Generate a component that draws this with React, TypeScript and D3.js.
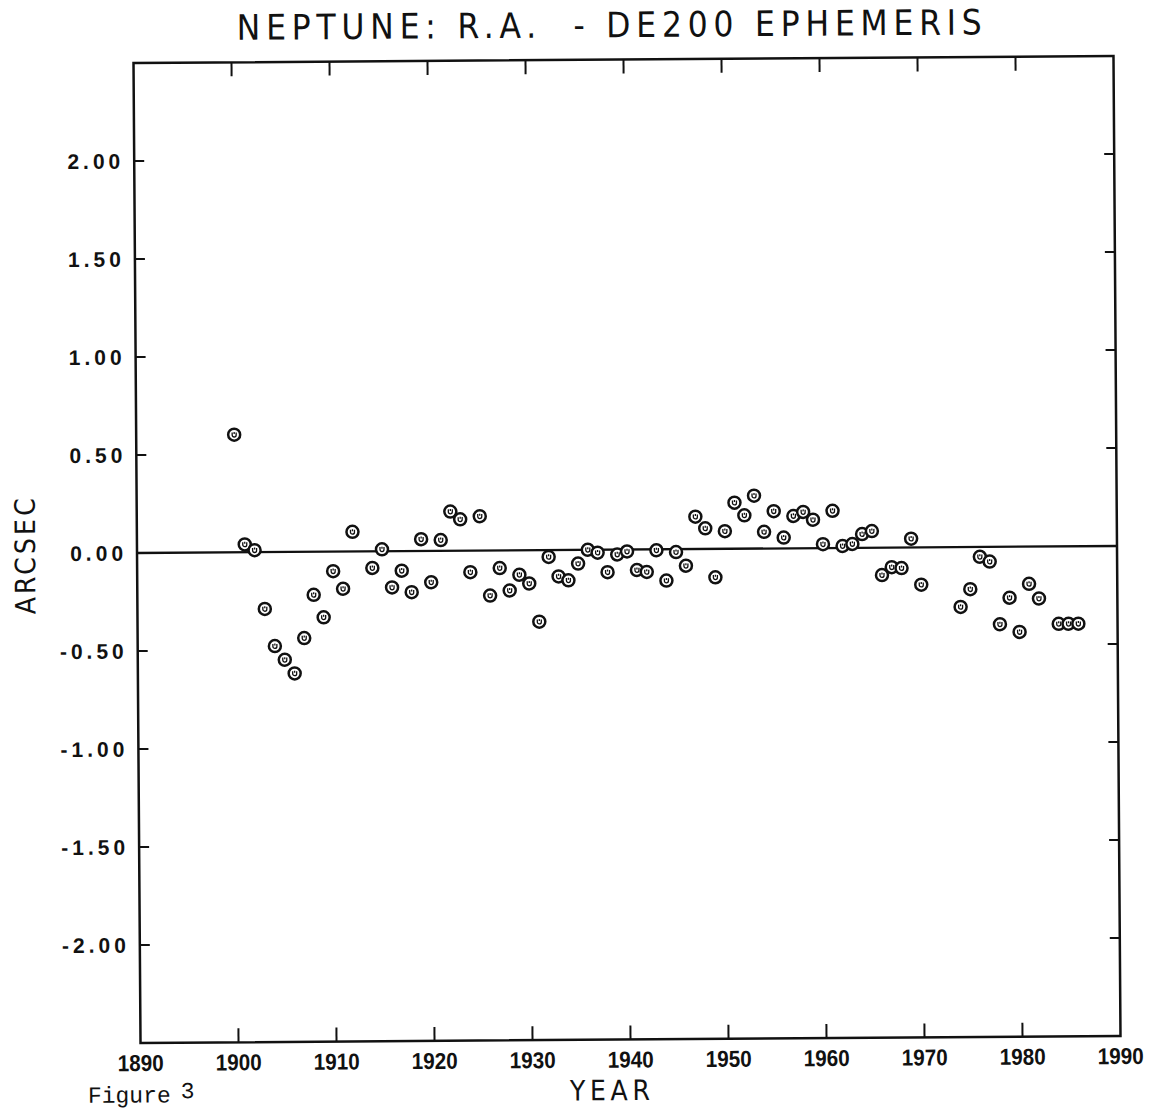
import React from "react";
import * as d3 from "d3";

const years = [
  1900, 1901, 1902, 1903, 1904, 1905, 1906, 1907, 1908, 1909, 1910, 1911, 1912,
  1914, 1915, 1916, 1917, 1918, 1919, 1920, 1921, 1922, 1923, 1924, 1925, 1926,
  1927, 1928, 1929, 1930, 1931, 1932, 1933, 1934, 1935, 1936, 1937, 1938, 1939,
  1940, 1941, 1942, 1943, 1944, 1945, 1946, 1947, 1948, 1949, 1950, 1951, 1952,
  1953, 1954, 1955, 1956, 1957, 1958, 1959, 1960, 1961, 1962, 1963, 1964, 1965,
  1966, 1967, 1968, 1969, 1970, 1974, 1975, 1976, 1977, 1978, 1979, 1980, 1981,
  1982, 1984, 1985, 1986,
];
const arcsec = [
  0.6, 0.04, 0.01, -0.29, -0.48, -0.55, -0.62, -0.44, -0.22, -0.335, -0.1, -0.19, 0.1,
  -0.085, 0.01, -0.185, -0.1, -0.21, 0.06, -0.16, 0.055, 0.2, 0.16, -0.11, 0.175, -0.23,
  -0.09, -0.205, -0.125, -0.17, -0.365, -0.035, -0.135, -0.155, -0.07, 0.0, -0.015, -0.115, -0.025,
  -0.01, -0.105, -0.115, -0.005, -0.16, -0.015, -0.085, 0.165, 0.105, -0.145, 0.09, 0.235, 0.17,
  0.27, 0.085, 0.19, 0.055, 0.165, 0.185, 0.145, 0.02, 0.19, 0.01, 0.02, 0.07, 0.085,
  -0.14, -0.1, -0.105, 0.045, -0.19, -0.305, -0.215, -0.05, -0.075, -0.395, -0.26, -0.435, -0.19,
  -0.265, -0.395, -0.395, -0.395,
];
const xTicks = [1890, 1900, 1910, 1920, 1930, 1940, 1950, 1960, 1970, 1980, 1990];
const yTicks = [2, 1.5, 1, 0.5, 0, -0.5, -1, -1.5, -2];
const yTickLabels = ["2.00", "1.50", "1.00", "0.50", "0.00", "-0.50", "-1.00", "-1.50", "-2.00"];
const titleText = "NEPTUNE: R.A.  - DE200 EPHEMERIS";
const xTitle = "YEAR";
const yTitle = "ARCSEC";
const figureWord = "Figure";
const figureNum = "3";

const W = 1158;
const H = 1111;
const left = 137;
const right = 1117;
const top = 59.5;
const bottom = 1039.5;

export default function App() {
  const x = d3.scaleLinear().domain([1890, 1990]).range([left, right]);
  const y = d3.scaleLinear().domain([-2.5, 2.5]).range([bottom, top]);
  const cx = (left + right) / 2;
  const cy = (top + bottom) / 2;
  const pts = years.map((yr, i) => ({ yr, v: arcsec[i] }));
  const tickFont = "'Liberation Sans', Arial, sans-serif";
  const narrowFont = "'Liberation Sans Narrow', 'DejaVu Sans Condensed', sans-serif";

  return (
    <svg
      width={W}
      height={H}
      viewBox={`0 0 ${W} ${H}`}
      style={{ position: "absolute", left: 0, top: 0, background: "#fff" }}
    >
      <rect x={0} y={0} width={W} height={H} fill="#fff" />
      <g transform={`rotate(-0.41 ${cx} ${cy})`}>
        <text
          x={cx - 14}
          y={37}
          textAnchor="middle"
          fontFamily={narrowFont}
          fontSize={35}
          textLength={745}
          lengthAdjust="spacing"
          style={{ whiteSpace: "pre" }}
          fill="#111"
        >
          {titleText}
        </text>

        <rect
          x={left}
          y={top}
          width={right - left}
          height={bottom - top}
          fill="none"
          stroke="#111"
          strokeWidth={2.5}
        />

        {xTicks.slice(1, -1).map((t) => (
          <g key={"xt" + t}>
            <line x1={x(t)} x2={x(t)} y1={top} y2={top + 14} stroke="#111" strokeWidth={2} />
            <line x1={x(t)} x2={x(t)} y1={bottom} y2={bottom - 14} stroke="#111" strokeWidth={2} />
          </g>
        ))}
        {xTicks.map((t) => (
          <text
            key={"xl" + t}
            x={x(t) - 23}
            y={bottom + 28}
            fontFamily={tickFont}
            fontWeight="bold"
            fontSize={23}
            textLength={46}
            lengthAdjust="spacingAndGlyphs"
            fill="#111"
          >
            {t}
          </text>
        ))}

        {yTicks.map((t, i) => (
          <g key={"yt" + t}>
            <line x1={left} x2={left + 10} y1={y(t)} y2={y(t)} stroke="#111" strokeWidth={2} />
            <line x1={right} x2={right - 10} y1={y(t)} y2={y(t)} stroke="#111" strokeWidth={2} />
            <text
              x={left - 10}
              y={y(t) + 7.5}
              textAnchor="end"
              fontFamily={tickFont}
              fontWeight="bold"
              fontSize={21}
              letterSpacing={4}
              fill="#111"
            >
              {yTickLabels[i]}
            </text>
          </g>
        ))}

        <line x1={left} x2={right} y1={y(0)} y2={y(0)} stroke="#111" strokeWidth={2.3} />

        {pts.map((p) => (
          <g key={"p" + p.yr} transform={`translate(${x(p.yr)},${y(p.v)})`}>
            <circle r={6} fill="#fff" stroke="#111" strokeWidth={2.5} />
            <path d="M-2,-2.2 V0.3 A2,2 0 0 0 2,0.3 V-2.2 M0,-2.6 V-0.6" fill="none" stroke="#111" strokeWidth={1.3} />
          </g>
        ))}

        <text
          x={35}
          y={552}
          transform="rotate(-90 35 552)"
          textAnchor="middle"
          fontFamily={narrowFont}
          fontSize={28}
          textLength={116}
          lengthAdjust="spacing"
          fill="#111"
        >
          {yTitle}
        </text>

        <text
          x={606}
          y={1100}
          textAnchor="middle"
          fontFamily={narrowFont}
          fontSize={28}
          textLength={80}
          lengthAdjust="spacing"
          fill="#111"
        >
          {xTitle}
        </text>

        <text
          x={84}
          y={1099}
          fontFamily="'Liberation Mono', 'Courier New', monospace"
          fontSize={23}
          fill="#111"
        >
          {figureWord}
          <tspan dx={10} dy={-4}>{figureNum}</tspan>
        </text>
      </g>
    </svg>
  );
}
